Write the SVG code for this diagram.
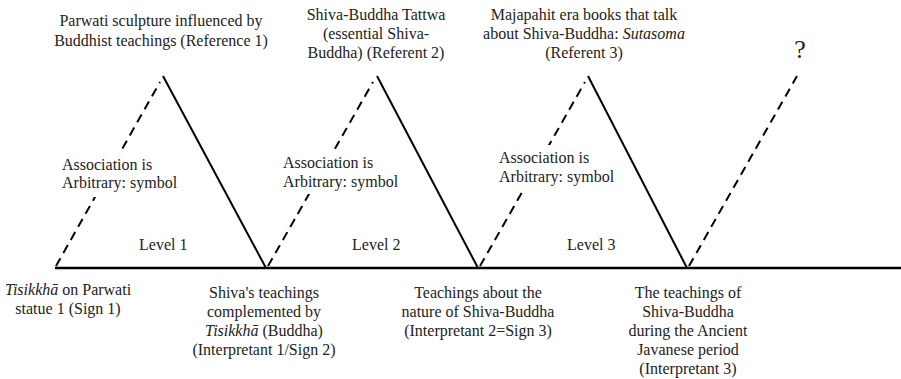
<svg xmlns="http://www.w3.org/2000/svg" width="901" height="379" viewBox="0 0 901 379">
  <style>
    text { font-family: "Liberation Serif", "Times New Roman", serif; font-size: 16px; fill: #222; }
    .c { text-anchor: middle; }
    .it { font-style: italic; }
    .solid { stroke: #000; stroke-width: 2; fill: none; }
    .dash { stroke: #000; stroke-width: 2; fill: none; stroke-dasharray: 9 6; }
    .base { stroke: #000; stroke-width: 2.5; fill: none; }
    .bg { fill: #fff; }
  </style>

  <!-- connectors: baseline, sign-to-referent (dashed) and referent-to-interpretant (solid) -->
  <g id="connectors">
    <line class="base" x1="55" y1="268" x2="901" y2="268"/>
    <line class="dash" x1="56" y1="266" x2="160" y2="82"/>
    <line class="solid" x1="163" y1="76" x2="266" y2="268"/>
    <line class="dash" x1="268" y1="266" x2="373" y2="82"/>
    <line class="solid" x1="377" y1="76" x2="478" y2="268"/>
    <line class="dash" x1="480" y1="266" x2="585" y2="82"/>
    <line class="solid" x1="588" y1="76" x2="687" y2="268"/>
    <line class="dash" x1="689" y1="266" x2="797" y2="76"/>
  </g>

  <!-- referents -->
  <g id="referent1">
    <text class="c" x="161" y="26">Parwati sculpture influenced by</text>
    <text class="c" x="161" y="46">Buddhist teachings (Reference 1)</text>
  </g>
  <g id="referent2">
    <text class="c" x="376" y="20">Shiva-Buddha Tattwa</text>
    <text class="c" x="376" y="39">(essential Shiva-</text>
    <text class="c" x="376" y="58">Buddha) (Referent 2)</text>
  </g>
  <g id="referent3">
    <text class="c" x="584" y="20">Majapahit era books that talk</text>
    <text class="c" x="584" y="39">about Shiva-Buddha: <tspan class="it">Sutasoma</tspan></text>
    <text class="c" x="584" y="58">(Referent 3)</text>
  </g>
  <g id="referent4">
    <text class="c" x="800" y="58" style="font-size:26px">?</text>
  </g>

  <!-- association notes, set on white so they break the dashed lines -->
  <g id="association1">
    <rect class="bg" x="54" y="151" width="139" height="46"/>
    <text x="62" y="170">Association is</text>
    <text x="62" y="188">Arbitrary: symbol</text>
  </g>
  <g id="association2">
    <rect class="bg" x="275" y="149" width="135" height="45"/>
    <text x="283" y="168">Association is</text>
    <text x="283" y="187">Arbitrary: symbol</text>
  </g>
  <g id="association3">
    <rect class="bg" x="492" y="145" width="128" height="45"/>
    <text x="499" y="163">Association is</text>
    <text x="499" y="182">Arbitrary: symbol</text>
  </g>

  <!-- level labels -->
  <g id="level1"><text x="139" y="250">Level 1</text></g>
  <g id="level2"><text x="352" y="250">Level 2</text></g>
  <g id="level3"><text x="567" y="250">Level 3</text></g>

  <!-- signs and interpretants along the baseline -->
  <g id="sign1">
    <text class="c" x="68" y="295"><tspan class="it">Tisikkhā</tspan> on Parwati</text>
    <text class="c" x="68" y="314">statue 1 (Sign 1)</text>
  </g>
  <g id="interpretant1">
    <text class="c" x="264" y="298">Shiva's teachings</text>
    <text class="c" x="264" y="317">complemented by</text>
    <text class="c" x="264" y="336"><tspan class="it">Tisikkhā</tspan> (Buddha)</text>
    <text class="c" x="264" y="355">(Interpretant 1/Sign 2)</text>
  </g>
  <g id="interpretant2">
    <text class="c" x="478" y="298">Teachings about the</text>
    <text class="c" x="478" y="317">nature of Shiva-Buddha</text>
    <text class="c" x="478" y="336">(Interpretant 2=Sign 3)</text>
  </g>
  <g id="interpretant3">
    <text class="c" x="688" y="298">The teachings of</text>
    <text class="c" x="688" y="317">Shiva-Buddha</text>
    <text class="c" x="688" y="336">during the Ancient</text>
    <text class="c" x="688" y="355">Javanese period</text>
    <text class="c" x="688" y="374">(Interpretant 3)</text>
  </g>
</svg>
